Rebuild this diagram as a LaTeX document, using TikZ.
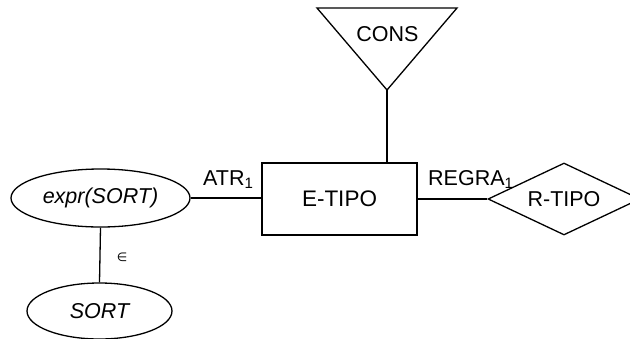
\documentclass[tikz,border=0pt]{standalone}
\usepackage{fontspec}
\setmainfont{Liberation Sans}
\newfontfamily\symfont{DejaVu Sans}
\usetikzlibrary{shapes.geometric}
\begin{document}
\begin{tikzpicture}[x=1pt,y=-1pt,
  every node/.style={font=\fontsize{21.5}{25}\selectfont},
  ln/.style={line width=1.3pt},
  entbox/.style={draw,ln,minimum width=155pt,minimum height=72pt,inner sep=0pt},
  attr/.style={draw,ln,ellipse,inner sep=0pt},
  rel/.style={draw,ln,diamond,aspect=2.11,minimum width=152pt,minimum height=72pt,inner sep=0pt},
  lbl/.style={inner sep=0pt}]
\useasboundingbox (0,0) rectangle (630,338);
% entity
\node[entbox,font=\fontsize{22.5}{26}\selectfont] (et) at (339.5,199) {E-TIPO};
% constraint triangle
\coordinate (t1) at (317,8);
\coordinate (t2) at (457,8);
\coordinate (tap) at (387,90);
\draw[ln,line join=miter] (t1) -- (t2) -- (tap) -- cycle;
\node[lbl] (cons) at (387.5,34) {CONS};
% relationship diamond
\node[rel] (rt) at (564,199) {R-TIPO};
% attribute ellipses
\node[attr,minimum width=179pt,minimum height=58pt] (ex) at (100.5,198) {\itshape expr(SORT)};
\node[attr,minimum width=145pt,minimum height=56pt] (so) at (99.5,311) {\itshape SORT};
% connectors
\draw[ln] (tap) -- (et.north -| tap);
\draw[ln] (et.east) -- (rt.west);
\draw[ln] (ex.east) -- (et.west |- ex.east);
\draw[ln] (ex.south) -- (so.north);
% labels
\node[lbl,anchor=base west] (atr) at (203,185) {ATR\textsubscript{1}};
\node[lbl,anchor=base west] (reg) at (428,185) {REGRA\textsubscript{1}};
\node[lbl] (in) at (122,257) {\symfont\fontsize{12}{14}\selectfont ∈};
\end{tikzpicture}
\end{document}
